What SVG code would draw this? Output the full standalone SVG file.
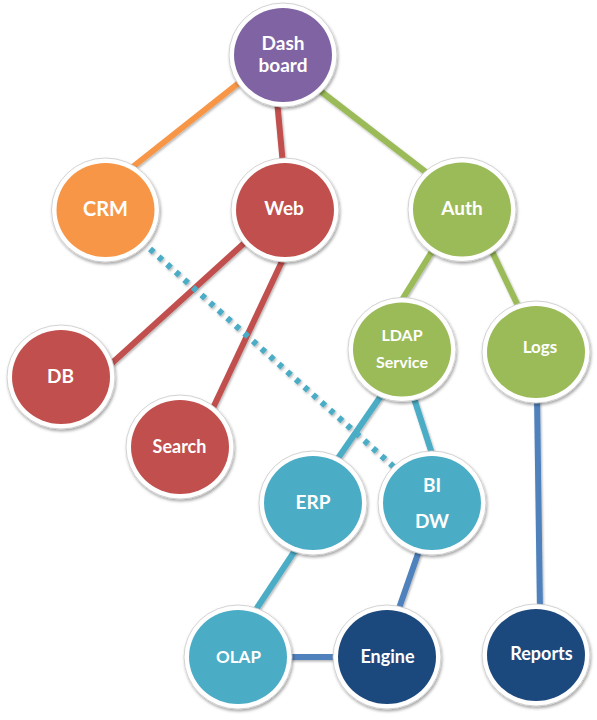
<svg xmlns="http://www.w3.org/2000/svg" width="597" height="720" viewBox="0 0 597 720">
<defs>
<filter id="sh" x="-20%" y="-20%" width="140%" height="140%">
<feDropShadow dx="1" dy="2" stdDeviation="1.5" flood-color="#000" flood-opacity="0.35"/>
</filter>
<filter id="lsh" x="-20%" y="-20%" width="140%" height="140%">
<feDropShadow dx="1" dy="1.5" stdDeviation="1" flood-color="#000" flood-opacity="0.3"/>
</filter>
<style>
.ring{fill:#fff;stroke:#c8c8c8;stroke-width:0.8}
.e{stroke-width:6;fill:none;stroke-linecap:butt}
.t{font-family:"Lato","Open Sans","DejaVu Sans",sans-serif;font-weight:bold;fill:#fff;text-anchor:middle;font-size:19px}
.s{font-size:16px}
.m{font-size:18px}
.purple{fill:#8064A2}.orange{fill:#F79646}.red{fill:#C0504D}.green{fill:#9BBB59}.teal{fill:#4BACC6}.navy{fill:#1F497D}
</style>
</defs>
<rect width="597" height="720" fill="#fff"/>
<g id="connectors" filter="url(#lsh)">
<line class="e" x1="250" y1="74" x2="120" y2="177" stroke="#F79646"/>
<line class="e" x1="277" y1="100" x2="283" y2="165" stroke="#C0504D"/>
<line class="e" x1="310" y1="83" x2="436" y2="180" stroke="#9BBB59"/>
<line class="e" x1="252" y1="236" x2="100" y2="374" stroke="#C0504D"/>
<line class="e" x1="285" y1="255" x2="205" y2="425" stroke="#C0504D"/>
<line class="e" x1="436" y1="245" x2="400" y2="303" stroke="#9BBB59"/>
<line class="e" x1="488" y1="243" x2="520" y2="310" stroke="#9BBB59"/>
<line class="e" x1="385" y1="390" x2="332" y2="467" stroke="#4BACC6"/>
<line class="e" x1="412" y1="392" x2="434" y2="460" stroke="#4BACC6"/>
<line class="e" x1="537" y1="395" x2="540" y2="612" stroke="#4F81BD"/>
<line class="e" x1="298" y1="546" x2="253" y2="614" stroke="#4BACC6"/>
<line class="e" x1="420" y1="548" x2="397" y2="614" stroke="#4F81BD"/>
<line class="e" x1="285" y1="657" x2="340" y2="657" stroke="#4F81BD"/>
<line class="e" x1="150" y1="249" x2="395" y2="468" stroke="#4BACC6" stroke-width="5" stroke-dasharray="5 6.5"/>
</g>
<g id="dashboard" filter="url(#sh)"><ellipse class="ring" cx="283" cy="55" rx="54" ry="52"/><ellipse class="purple" cx="283" cy="55" rx="49" ry="47"/></g>
<text class="t" x="283" y="50">Dash</text><text class="t" x="283" y="72">board</text>
<g id="crm" filter="url(#sh)"><ellipse class="ring" cx="105.5" cy="210" rx="54" ry="52"/><ellipse class="orange" cx="105.5" cy="210" rx="49" ry="47"/></g>
<text class="t" x="105.5" y="216" style="font-size:20px">CRM</text>
<g id="web" filter="url(#sh)"><ellipse class="ring" cx="285" cy="210" rx="54" ry="52"/><ellipse class="red" cx="285" cy="210" rx="49" ry="47"/></g>
<text class="t" x="284" y="215">Web</text>
<g id="auth" filter="url(#sh)"><ellipse class="ring" cx="462" cy="209.5" rx="54" ry="52"/><ellipse class="green" cx="462" cy="209.5" rx="49" ry="47"/></g>
<text class="t" x="462" y="215">Auth</text>
<g id="ldap" filter="url(#sh)"><ellipse class="ring" cx="402" cy="349.5" rx="54" ry="52"/><ellipse class="green" cx="402" cy="349.5" rx="49" ry="47"/></g>
<text class="t s" x="402" y="341">LDAP</text><text class="t s" x="402" y="368">Service</text>
<g id="logs" filter="url(#sh)"><ellipse class="ring" cx="536" cy="352" rx="54" ry="51"/><ellipse class="green" cx="536" cy="352" rx="49" ry="46"/></g>
<text class="t" x="540" y="353" style="font-size:17px">Logs</text>
<g id="db" filter="url(#sh)"><ellipse class="ring" cx="61" cy="377" rx="54" ry="52"/><ellipse class="red" cx="61" cy="377" rx="49" ry="47"/></g>
<text class="t" x="60.5" y="383">DB</text>
<g id="search" filter="url(#sh)"><ellipse class="ring" cx="180" cy="447" rx="54" ry="52"/><ellipse class="red" cx="180" cy="447" rx="49" ry="47"/></g>
<text class="t m" x="179.5" y="453">Search</text>
<g id="erp" filter="url(#sh)"><ellipse class="ring" cx="313" cy="503" rx="54" ry="52"/><ellipse class="teal" cx="313" cy="503" rx="49" ry="47"/></g>
<text class="t" x="313" y="509">ERP</text>
<g id="bidw" filter="url(#sh)"><ellipse class="ring" cx="432" cy="503" rx="54" ry="52"/><ellipse class="teal" cx="432" cy="503" rx="49" ry="47"/></g>
<text class="t" x="432" y="492">BI</text><text class="t" x="432" y="528">DW</text>
<g id="olap" filter="url(#sh)"><ellipse class="ring" cx="238" cy="657" rx="54" ry="52"/><ellipse class="teal" cx="238" cy="657" rx="49" ry="47"/></g>
<text class="t" x="238.5" y="663" style="font-size:17px">OLAP</text>
<g id="engine" filter="url(#sh)"><ellipse class="ring" cx="387" cy="657" rx="54" ry="52"/><ellipse class="navy" cx="387" cy="657" rx="49" ry="47"/></g>
<text class="t m" x="387.5" y="663">Engine</text>
<g id="reports" filter="url(#sh)"><ellipse class="ring" cx="536" cy="655" rx="54" ry="51"/><ellipse class="navy" cx="536" cy="655" rx="49" ry="46"/></g>
<text class="t m" x="541.5" y="660">Reports</text>
</svg>
